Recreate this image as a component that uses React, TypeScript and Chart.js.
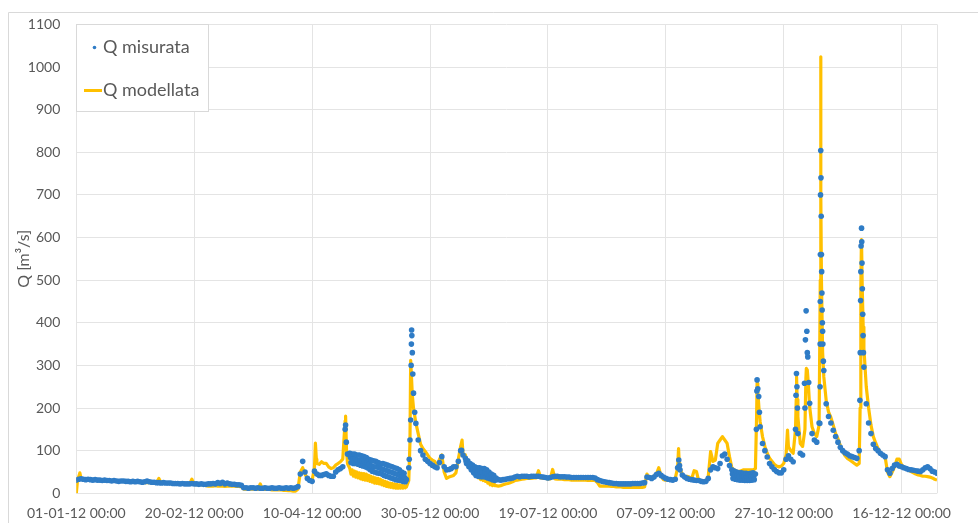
import React, { useEffect, useRef } from 'react';
import { Chart, registerables } from 'chart.js';
Chart.register(...registerables);

// ---- data (day of year 2012, discharge m3/s) ----
const xTickLabels = [
  '01-01-12 00:00', '20-02-12 00:00', '10-04-12 00:00', '30-05-12 00:00',
  '19-07-12 00:00', '07-09-12 00:00', '27-10-12 00:00', '16-12-12 00:00',
];
const seriesNames = ['Q misurata', 'Q modellata'];
const yTitle = 'Q [m³/s]';

// measured, daily values (day 0..365)
const measQ = [
  31,33,34,33,32,33,32,31,32,31,
  31,30,31,30,30,29,30,29,28,29,
  29,28,28,27,28,27,28,27,26,27,
  29,27,26,26,25,25,24,25,24,24,
  24,23,23,23,22,23,22,22,22,23,
  22,22,21,22,21,21,22,22,23,22,
  25,23,26,22,24,22,21,21,20,20,
  19,13,13,12,13,13,12,13,12,12,
  13,12,12,13,12,12,13,12,12,13,
  12,13,12,13,16,45,75,50,35,30,
  28,52,45,42,42,44,46,42,40,40,
  50,55,58,62,150,92,94,92,92,90,
  90,88,86,84,80,78,76,75,72,70,
  70,68,66,64,62,60,58,55,50,47,
  32,60,300,235,164,125,100,90,80,75,
  70,66,62,60,72,86,62,55,56,58,
  62,62,75,100,90,82,76,70,66,62,
  60,60,58,58,55,50,45,42,36,32,
  31,32,33,34,35,36,38,40,39,40,
  40,40,39,40,40,40,40,39,38,37,
  36,37,39,40,40,39,39,39,38,38,
  37,37,37,37,37,37,37,37,37,37,
  36,32,30,28,27,26,25,24,23,23,
  22,22,22,22,22,22,23,23,23,23,
  24,25,38,37,35,38,44,47,42,38,
  35,33,32,31,33,60,55,43,38,35,
  33,32,31,30,30,28,27,28,35,55,
  62,60,58,70,88,92,80,65,55,52,
  50,48,48,47,47,46,47,48,45,245,
  156,117,100,85,70,62,56,51,48,48,
  55,80,88,80,74,150,140,94,90,200,
  330,211,140,125,120,165,560,288,210,180,
  165,148,133,120,108,100,95,92,88,86,
  84,82,100,622,296,210,165,140,115,105,
  100,94,90,86,55,47,58,66,68,64,
  62,60,58,56,55,54,53,52,51,55,
  60,62,58,52,50,47,
];

// measured, extra sub-daily readings around floods
const measPeakDay = [
  114.2, 114.5,
  141.2, 141.5, 141.8, 142.1, 142.2, 142.3, 142.5, 142.7, 143.5,
  163.4, 255.5, 255.8,
  288.4, 288.6, 288.7, 289.4, 289.7,
  305.2, 305.4, 305.6, 305.8,
  308.8, 309.2, 309.5, 309.8, 310.2, 310.6,
  315.3, 315.4, 315.45, 315.5, 315.55, 315.6, 315.7, 315.8, 315.9,
  316.1, 316.2, 316.3, 316.4, 316.5, 316.6, 316.8,
  332.3, 332.45, 332.6, 332.7, 332.8, 333.1, 333.2, 333.35, 333.5, 333.65, 333.8,
];
const measPeakQ = [
  160, 120,
  80, 125, 172, 350, 383, 370, 330, 280, 190,
  101, 78, 65,
  150, 240, 266, 227, 190,
  230, 281, 250, 200,
  258, 360, 428, 380, 320, 260,
  164, 250, 350, 450, 560, 700, 804, 740, 650,
  520, 470, 430, 400, 380, 350, 310,
  218, 330, 452, 520, 580, 590, 540, 480, 420, 370, 330,
];

// measured, lower edge of the noisy band (half-day readings)
const measLowStart = [116.5, 165.5, 278.5];
const measLow1 = [72,70,70,68,66,64,62,60,56,52,50,48,47,45,42,40,38,36,34,32,31,30,28,27];
const measLow2 = [70,62,55,48,42,40,39,39,38,36,34,32,30];
const measLow3 = [35,33,32,31,31,30,30,30,31,32];
// measured, middle of the noisy band (quarter-day readings)
const measMidStart = [116.25, 165.25, 278.25];
const measMid1 = [84,80,82,78,78,75,74,72,68,64,62,62,60,58,56,54,52,50,48,46,44,42,40,37];
const measMid2 = [76,69,62,57,52,50,50,48,48,46,42,38,36];
const measMid3 = [45,42,41,40,39,38,38,38,39,40];

// modelled, daily values (day 0..365)
const modQ = [
  0,38,35,33,32,32,31,31,31,30,
  30,30,30,29,29,29,29,28,28,28,
  28,27,27,27,27,26,26,26,26,25,
  25,25,25,24,24,35,24,24,23,23,
  23,23,22,22,22,22,22,22,21,33,
  21,20,20,20,19,18,17,17,17,18,
  17,17,17,16,17,17,17,17,16,16,
  15,10,10,10,10,10,9,9,22,9,
  9,9,9,8,8,8,8,8,7,7,
  6,6,5,5,10,50,60,45,35,30,
  30,60,70,68,74,70,70,62,58,60,
  66,70,74,80,170,70,58,55,52,50,
  48,47,46,45,42,40,38,36,35,33,
  30,28,26,24,23,22,21,20,19,18,
  15,30,290,200,165,140,115,105,98,90,
  82,78,75,62,80,90,50,35,38,40,
  42,48,80,110,90,90,75,68,62,55,
  50,44,42,40,36,32,28,25,18,17,
  18,20,22,23,25,27,30,31,32,33,
  34,35,35,35,36,36,53,36,35,35,
  34,34,56,34,33,33,33,32,32,32,
  31,31,31,31,31,31,31,30,30,30,
  30,25,17,17,17,17,17,16,16,15,
  15,15,14,14,14,14,14,14,14,14,
  14,15,45,35,38,40,45,60,40,32,
  31,30,30,30,35,60,60,43,38,40,
  38,35,53,51,28,27,26,28,40,98,
  75,78,117,125,133,125,117,86,60,55,
  52,51,53,55,55,55,55,55,58,240,
  168,133,110,94,82,75,68,64,62,64,
  70,90,109,100,94,150,180,117,110,150,
  289,203,156,140,133,160,500,273,218,191,
  178,160,140,128,112,98,88,82,78,74,
  70,66,70,590,340,250,200,160,133,118,
  105,94,90,86,50,39,50,62,80,80,
  66,62,58,54,51,48,45,43,42,40,
  40,39,38,36,33,31,
];

// modelled, extra sub-daily values around floods
const modPeakDay = [
  0.5, 1.5,
  101.4, 101.8,
  114.2, 114.6,
  141.5, 141.8, 142.5,
  163.6, 255.4, 255.7,
  288.5, 288.7, 289.5,
  301.6, 305.3, 305.45, 305.7,
  309.4, 309.6, 310.4,
  315.5, 315.65, 315.8, 316.5,
  332.4, 332.7, 332.95, 333.3, 333.7,
];
const modPeakQ = [
  30, 48,
  118, 80,
  181, 100,
  120, 312, 230,
  125, 105, 70,
  180, 258, 200,
  148, 220, 273, 220,
  270, 293, 260,
  500, 1024, 700, 330,
  200, 480, 595, 480, 390,
];

// modelled, lower edge of the oscillating band (half-day values)
const modLowStart = [116.5, 165.5];
const modLow1 = [45,40,38,36,34,32,31,30,28,26,24,23,22,20,18,16,15,14,13,12,12,12,12,13];
const modLow2 = [75,65,55,48,42,36,32,30,28,24,20,18,18];

// ---- helpers ----
type P = { x: number; y: number };
function buildSeries(daily: number[], extraDays: number[], extraQ: number[], starts: number[], segs: number[][]): P[] {
  const pts: P[] = daily.map((q, i) => ({ x: i, y: q }));
  extraDays.forEach((d, i) => pts.push({ x: d, y: extraQ[i] }));
  segs.forEach((arr, k) => arr.forEach((q, i) => pts.push({ x: starts[k] + i, y: q })));
  pts.sort((a, b) => a.x - b.x);
  return pts;
}

const BLUE = '#2F7CC6';
const YELLOW = '#FFC000';
const GRID = '#e4e4e4';
const TEXT = '#595959';
const FONT = 'Lato';

const decorPlugin = {
  id: 'decor',
  afterDraw(chart: any) {
    const { ctx, chartArea } = chart;
    ctx.save();
    ctx.strokeStyle = GRID;
    ctx.lineWidth = 1;
    const rx = Math.round(chartArea.right) + 0.5;
    ctx.beginPath();
    ctx.moveTo(rx, chartArea.top);
    ctx.lineTo(rx, chartArea.bottom);
    ctx.stroke();
    ctx.strokeStyle = '#d9d9d9';
    ctx.beginPath();
    ctx.moveTo(8.5, 523);
    ctx.lineTo(8.5, 12.5);
    ctx.lineTo(978, 12.5);
    ctx.stroke();
    const lx = Math.round(chartArea.left);
    const ly = Math.round(chartArea.top);
    ctx.fillStyle = '#ffffff';
    ctx.fillRect(lx, ly, 132, 87);
    ctx.strokeStyle = '#d9d9d9';
    ctx.strokeRect(lx + 0.5, ly + 0.5, 132, 87);
    ctx.fillStyle = BLUE;
    ctx.beginPath();
    ctx.arc(lx + 18.5, ly + 23.5, 1.8, 0, Math.PI * 2);
    ctx.fill();
    ctx.strokeStyle = YELLOW;
    ctx.lineWidth = 3;
    ctx.beginPath();
    ctx.moveTo(lx + 8, ly + 66.5);
    ctx.lineTo(lx + 26, ly + 66.5);
    ctx.stroke();
    ctx.fillStyle = TEXT;
    ctx.font = `18px ${FONT}`;
    ctx.textBaseline = 'middle';
    ctx.textAlign = 'left';
    ctx.fillText(seriesNames[0], lx + 27, ly + 23);
    ctx.fillText(seriesNames[1], lx + 27, ly + 66.5);
    ctx.restore();
  },
};

export default function App() {
  const ref = useRef<HTMLCanvasElement | null>(null);
  useEffect(() => {
    if (!ref.current) return;
    const meas = buildSeries(measQ, measPeakDay, measPeakQ,
      [...measLowStart, ...measMidStart], [measLow1, measLow2, measLow3, measMid1, measMid2, measMid3]);
    const mod = buildSeries(modQ, modPeakDay, modPeakQ, modLowStart, [modLow1, modLow2]);
    const chart = new Chart(ref.current, {
      type: 'line',
      data: {
        datasets: [
          {
            label: seriesNames[0],
            data: meas,
            showLine: false,
            pointRadius: 2.8,
            pointBorderWidth: 0,
            pointBackgroundColor: BLUE,
            borderColor: BLUE,
          },
          {
            label: seriesNames[1],
            data: mod,
            borderColor: YELLOW,
            borderWidth: 3.2,
            pointRadius: 0,
            tension: 0,
            borderJoinStyle: 'round',
          },
        ],
      },
      options: {
        animation: false,
        responsive: false,
        devicePixelRatio: 1,
        layout: { padding: { left: 8, top: 23.5, right: 41, bottom: 0 } },
        plugins: { legend: { display: false }, tooltip: { enabled: false } },
        scales: {
          x: {
            type: 'linear',
            min: 0,
            max: 365,
            border: { display: false },
            grid: { color: GRID, drawTicks: false },
            ticks: {
              stepSize: 50,
              includeBounds: false,
              autoSkip: false,
              maxRotation: 0,
              padding: 12,
              color: TEXT,
              font: { family: FONT, size: 14 },
              callback: (v: any) => (Number(v) % 50 === 0 ? xTickLabels[Number(v) / 50] : ''),
            },
            afterFit: (s: any) => { s.height = 29.7; },
          },
          y: {
            min: 0,
            max: 1100,
            border: { display: false },
            grid: { color: GRID, drawTicks: false },
            ticks: {
              stepSize: 100,
              padding: 16,
              color: TEXT,
              font: { family: FONT, size: 14 },
              callback: (v: any) => String(v),
            },
            title: {
              display: true,
              text: yTitle,
              color: TEXT,
              font: { family: FONT, size: 16 },
              padding: { top: 6.4, bottom: 0 },
            },
            afterFit: (s: any) => { s.width = 68.3; },
          },
        },
      },
      plugins: [decorPlugin],
    });
    return () => chart.destroy();
  }, []);
  return (
    <div style={{ position: 'fixed', left: 0, top: 0, width: 978, height: 523, background: '#fff' }}>
      <canvas ref={ref} width={978} height={523} style={{ display: 'block', width: 978, height: 523 }} />
    </div>
  );
}
